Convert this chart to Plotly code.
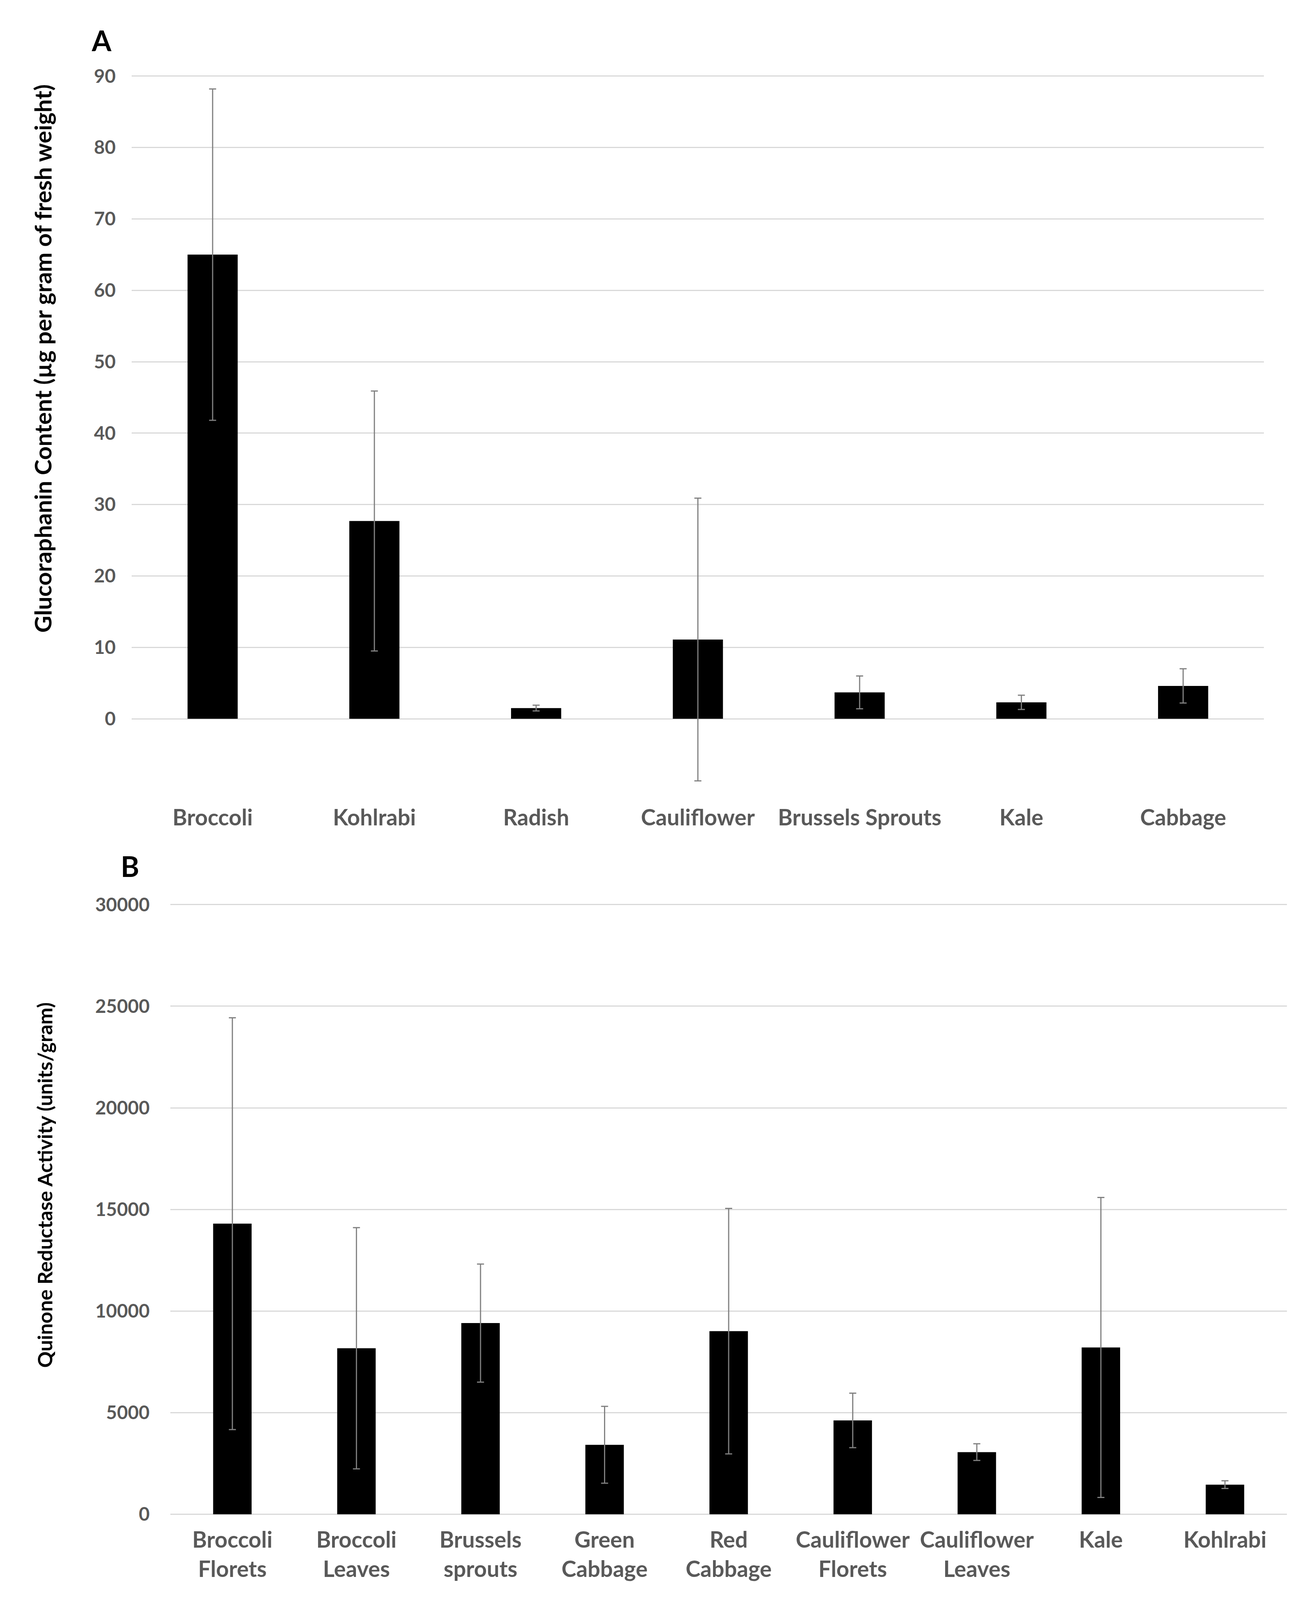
import plotly.graph_objects as go

# Panel A: glucoraphanin content
cats_a = ["Broccoli", "Kohlrabi", "Radish", "Cauliflower", "Brussels Sprouts", "Kale", "Cabbage"]
gluc = [65.0, 27.7, 1.5, 11.1, 3.7, 2.3, 4.6]
gluc_err = [23.2, 18.2, 0.4, 19.8, 2.3, 1.0, 2.4]
ticks_a = [0, 10, 20, 30, 40, 50, 60, 70, 80, 90]

# Panel B: quinone reductase activity
cats_b = ["Broccoli<br>Florets", "Broccoli<br>Leaves", "Brussels<br>sprouts", "Green<br>Cabbage",
          "Red<br>Cabbage", "Cauliflower<br>Florets", "Cauliflower<br>Leaves", "Kale", "Kohlrabi"]
qr = [14300, 8170, 9410, 3420, 9010, 4620, 3060, 8210, 1460]
qr_err = [10130, 5935, 2905, 1890, 6040, 1340, 410, 7380, 190]
ticks_b = [0, 5000, 10000, 15000, 20000, 25000, 30000]

# reference layout is 3353 x 4473; the page only shows ~4100 px, so squeeze it a bit
REF_W, REF_H = 3353, 4473
W, H = 3345, 4090


def px(x):
    return x / REF_W


def py(y):
    return 1 - y / REF_H


FONT = "Lato"
tick_font = dict(family=FONT, size=48, color="#595959", weight="bold")
cat_font = dict(family=FONT, size=57, color="#595959", weight="bold")
err_style = dict(type="data", visible=True, color="#808080", thickness=3, width=9)

fig = go.Figure()

fig.add_trace(go.Bar(
    x=cats_a, y=gluc,
    error_y=dict(array=gluc_err, **err_style),
    marker=dict(color="black", line=dict(width=0)),
    xaxis="x", yaxis="y",
))

fig.add_trace(go.Bar(
    x=cats_b, y=qr,
    error_y=dict(array=qr_err, **err_style),
    marker=dict(color="black", line=dict(width=0)),
    xaxis="x2", yaxis="y2",
))

fig.update_layout(
    width=W, height=H,
    margin=dict(l=0, r=0, t=0, b=0),
    paper_bgcolor="white",
    plot_bgcolor="white",
    showlegend=False,
    bargap=0.69,
    xaxis=dict(
        domain=[px(330), px(3235)], anchor="y",
        showgrid=False, showline=False, ticks="",
        tickfont=cat_font, ticklabelstandoff=32,
    ),
    yaxis=dict(
        domain=[py(2201), py(173)], anchor="x",
        range=[-10, 90.4], tickvals=ticks_a,
        showgrid=True, gridcolor="#d9d9d9", gridwidth=3,
        zeroline=False, showline=False, ticks="",
        tickfont=tick_font, ticklabelstandoff=40,
    ),
    xaxis2=dict(
        domain=[px(429), px(3294)], anchor="y2",
        showgrid=False, showline=False, ticks="",
        tickfont=cat_font, ticklabelstandoff=20,
    ),
    yaxis2=dict(
        domain=[py(4258), py(2516)], anchor="x2",
        range=[-150, 30150], tickvals=ticks_b, tickformat="d",
        showgrid=True, gridcolor="#d9d9d9", gridwidth=3,
        zeroline=False, showline=False, ticks="",
        tickfont=tick_font, ticklabelstandoff=52,
    ),
    annotations=[
        dict(text="A", x=px(253), y=py(80), xref="paper", yref="paper",
             xanchor="center", yanchor="middle", showarrow=False,
             font=dict(family=FONT, size=72, color="black", weight="bold")),
        dict(text="B", x=px(325), y=py(2415), xref="paper", yref="paper",
             xanchor="center", yanchor="middle", showarrow=False,
             font=dict(family=FONT, size=72, color="black", weight="bold")),
        dict(text="Glucoraphanin Content (µg per gram of fresh weight)",
             x=px(101), y=py(980), xref="paper", yref="paper", textangle=-90,
             xanchor="center", yanchor="middle", showarrow=False,
             font=dict(family=FONT, size=60, color="black", weight="bold")),
        dict(text="Quinone Reductase Activity (units/gram)",
             x=px(106), y=py(3318), xref="paper", yref="paper", textangle=-90,
             xanchor="center", yanchor="middle", showarrow=False,
             font=dict(family=FONT, size=52, color="black", weight="bold")),
    ],
)

fig.write_html("out.html")
